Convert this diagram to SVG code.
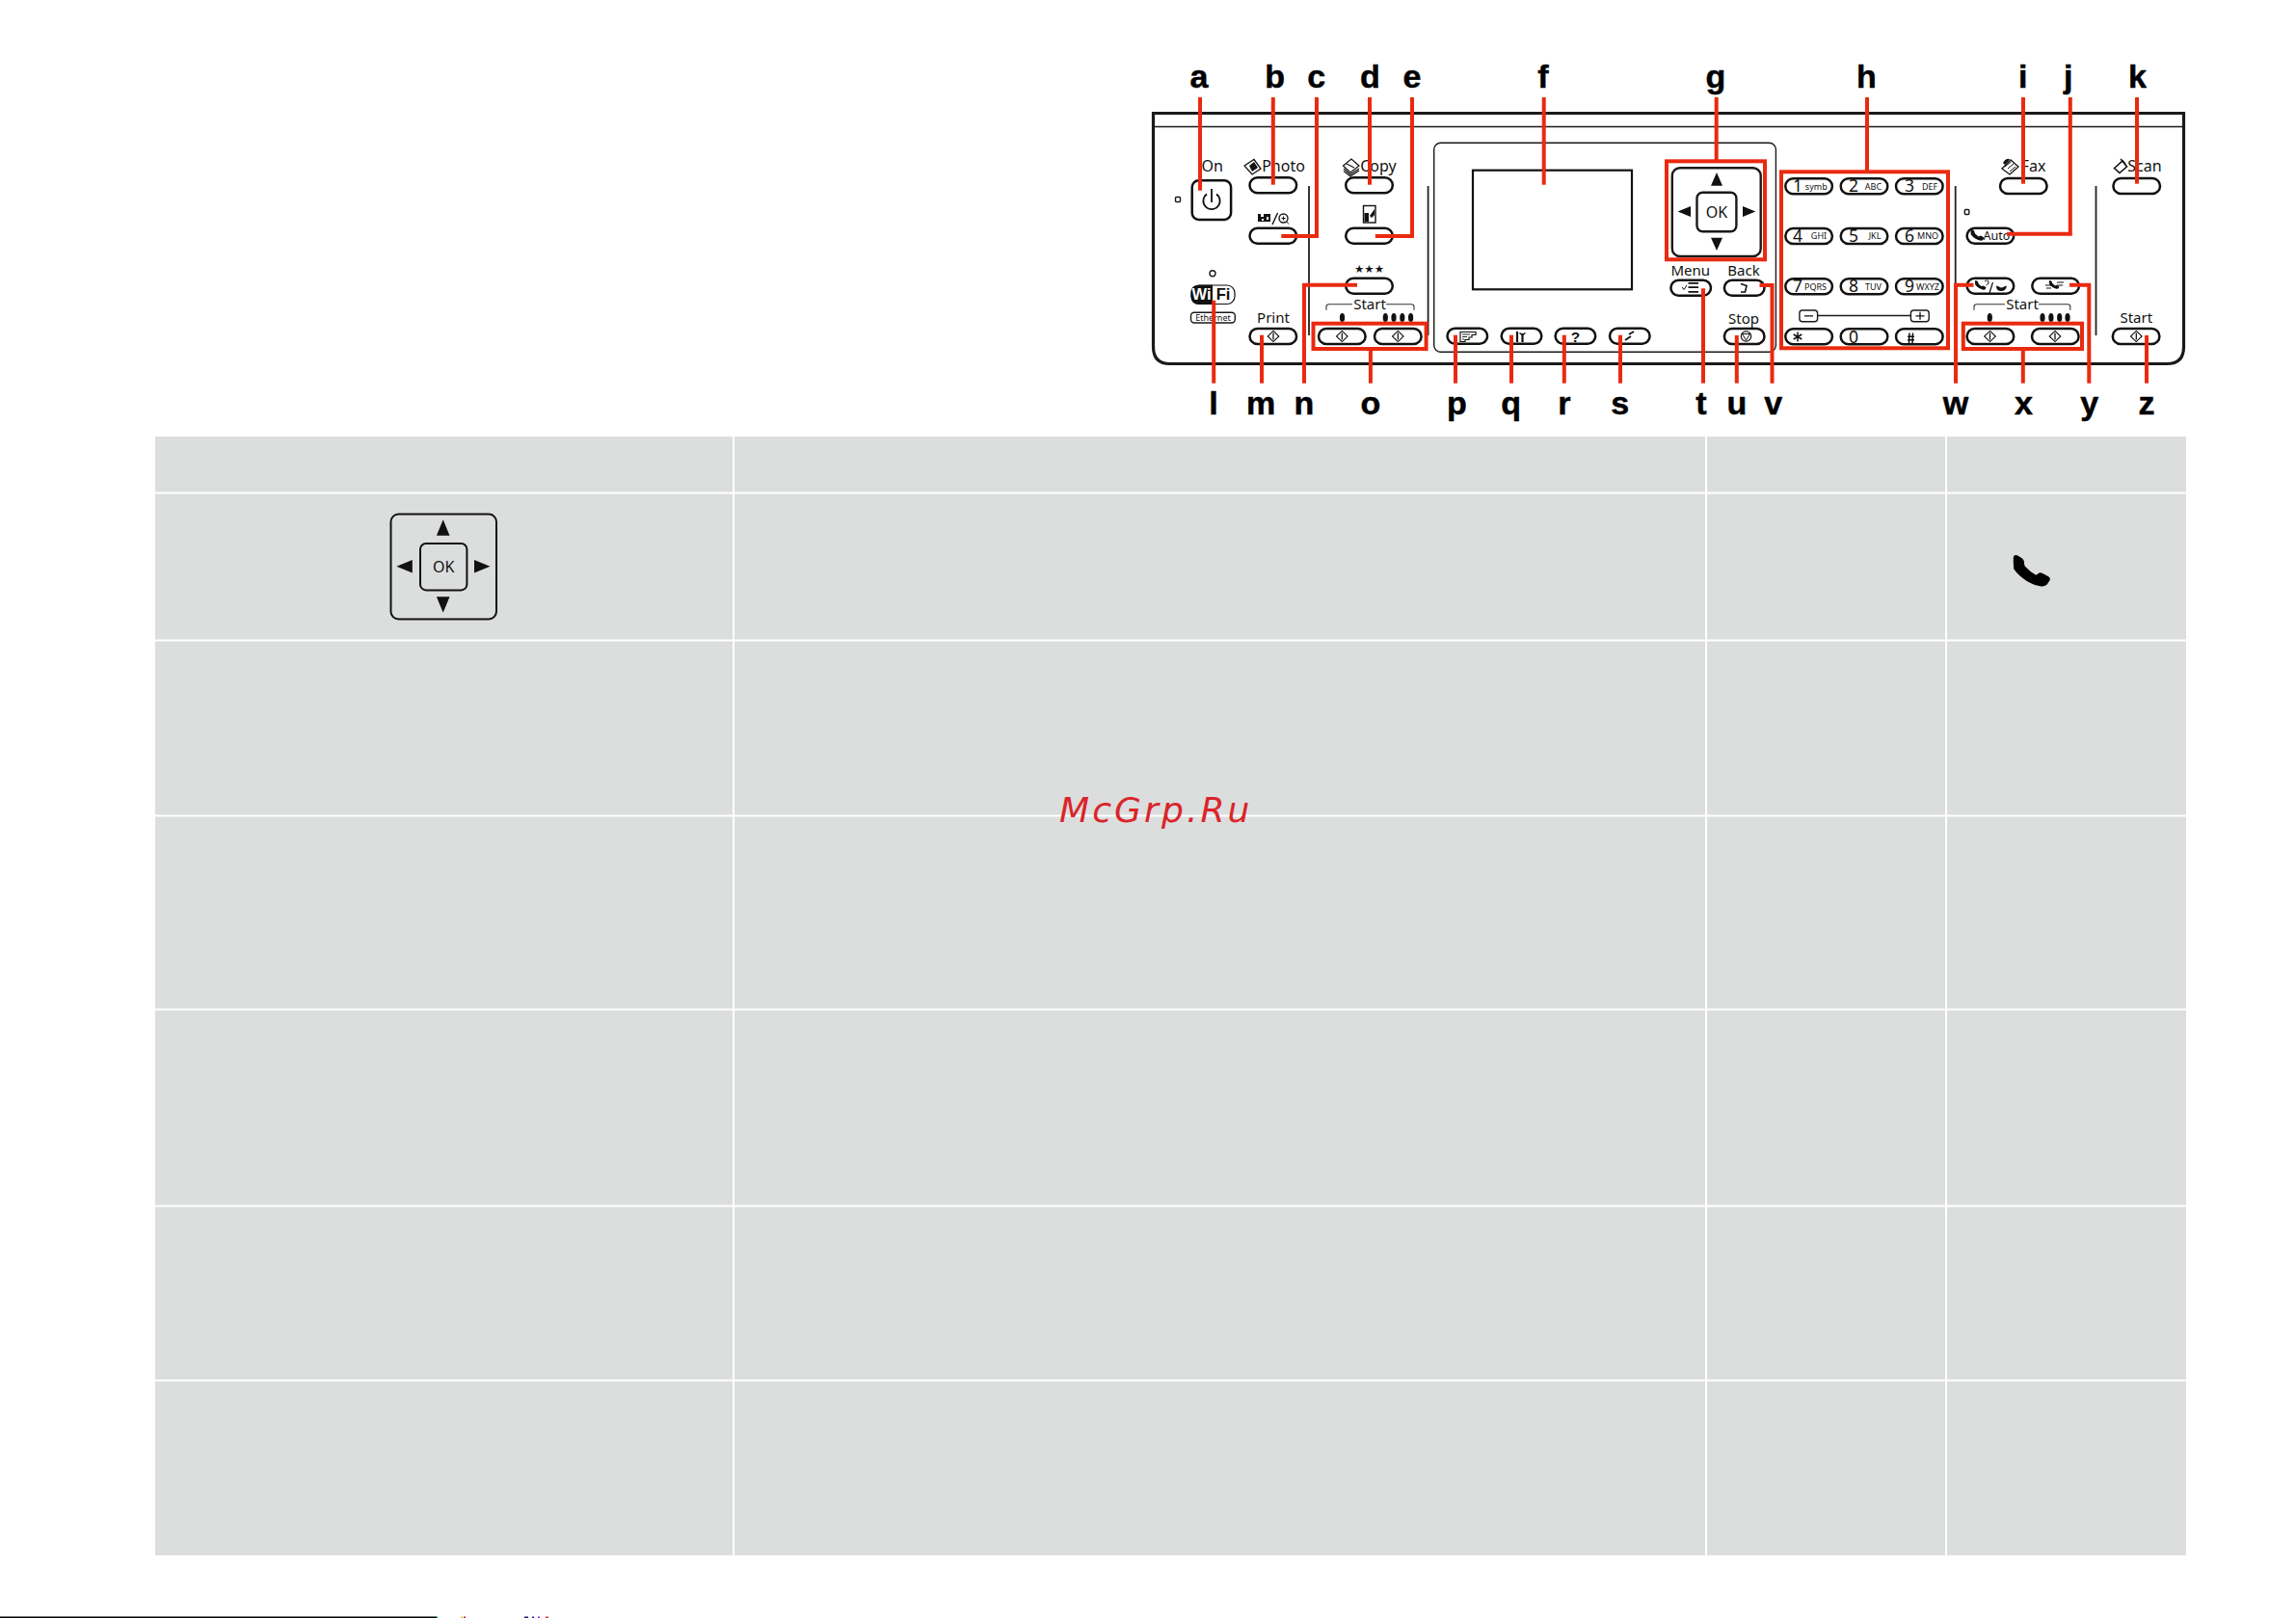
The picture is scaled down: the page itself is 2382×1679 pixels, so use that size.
<svg xmlns="http://www.w3.org/2000/svg" xmlns:xlink="http://www.w3.org/1999/xlink" width="2382" height="1679" viewBox="0 0 2382 1679">
<style>
.cell{fill:#dcdddd}
.pl{fill:none;stroke:#1a1a1a;stroke-width:2.4}
.thin{fill:none;stroke:#1a1a1a;stroke-width:1.4}
.b{fill:#fff;stroke:#111;stroke-width:2.5}
.k{fill:#111;stroke:none}
.sep{fill:none;stroke:#222;stroke-width:1.8}
.t{font-family:"Noto Sans","Liberation Sans",sans-serif;fill:#111;font-size:16px;text-anchor:middle}
.d{font-size:17.5px}
.s{font-family:"Noto Sans","Liberation Sans",sans-serif;fill:#111;font-size:9px;text-anchor:middle}
.lab{font-family:"Liberation Sans",Arial,sans-serif;font-weight:700;font-size:34px;fill:#000;stroke:#000;stroke-width:.5;text-anchor:middle}
.r{fill:none;stroke:#ea2a10;stroke-width:4}
</style>
<defs>
<rect id="bw" width="48.6" height="16" rx="8" class="b"/>
<rect id="bn" width="41.6" height="16" rx="8" class="b"/>
<g id="dia"><path d="M0-5.6 5.8 0 0 5.6-5.8 0Z" fill="#fff" stroke="#111" stroke-width="1.1"/><path d="M0-3.6V3.6" stroke="#111" stroke-width="1.3"/></g>
<path id="ph" d="M1.5 .3Q3 -.3 5 .8L9 3.300Q11.500 5 11.300 9L12 11.500Q17 17 23.500 20.800L27 18.500Q28 17.800 30 18.800L36.500 22.300Q39 24 38 26L35 30.500Q32.500 32.800 29 32.500Q22 31.500 14 27Q5 21 .6 14.500Q-.2 8 .1 2.300Q.3 .8 1.500 .3Z"/>
<ellipse id="drop" rx="2.6" ry="4.6" class="k"/>
</defs>
<rect width="2382" height="1679" fill="#fff"/>
<g id="table">
<rect class="cell" x="161" y="453" width="599" height="57.5"/><rect class="cell" x="762" y="453" width="1007" height="57.5"/><rect class="cell" x="1771" y="453" width="247" height="57.5"/><rect class="cell" x="2020" y="453" width="248" height="57.5"/>
<rect class="cell" x="161" y="512.5" width="599" height="151"/><rect class="cell" x="762" y="512.5" width="1007" height="151"/><rect class="cell" x="1771" y="512.5" width="247" height="151"/><rect class="cell" x="2020" y="512.5" width="248" height="151"/>
<rect class="cell" x="161" y="665.5" width="599" height="180"/><rect class="cell" x="762" y="665.5" width="1007" height="180"/><rect class="cell" x="1771" y="665.5" width="247" height="180"/><rect class="cell" x="2020" y="665.5" width="248" height="180"/>
<rect class="cell" x="161" y="847.5" width="599" height="199"/><rect class="cell" x="762" y="847.5" width="1007" height="199"/><rect class="cell" x="1771" y="847.5" width="247" height="199"/><rect class="cell" x="2020" y="847.5" width="248" height="199"/>
<rect class="cell" x="161" y="1048.5" width="599" height="202"/><rect class="cell" x="762" y="1048.5" width="1007" height="202"/><rect class="cell" x="1771" y="1048.5" width="247" height="202"/><rect class="cell" x="2020" y="1048.5" width="248" height="202"/>
<rect class="cell" x="161" y="1252.5" width="599" height="179"/><rect class="cell" x="762" y="1252.5" width="1007" height="179"/><rect class="cell" x="1771" y="1252.5" width="247" height="179"/><rect class="cell" x="2020" y="1252.5" width="248" height="179"/>
<rect class="cell" x="161" y="1433.5" width="599" height="180.5"/><rect class="cell" x="762" y="1433.5" width="1007" height="180.5"/><rect class="cell" x="1771" y="1433.5" width="247" height="180.5"/><rect class="cell" x="2020" y="1433.5" width="248" height="180.5"/>
</g>
<g id="table-dpad">
<rect x="405.5" y="533.5" width="109.5" height="109" rx="8" fill="none" stroke="#111" stroke-width="2"/>
<rect x="436" y="564" width="48.4" height="48.4" rx="6" fill="none" stroke="#111" stroke-width="2"/>
<path class="k" d="M459.7 539.3 466.5 555.7H452.9ZM459.7 635.7 452.9 619.3H466.5ZM411.4 587.7 427.8 581V594.4ZM508.4 587.7 492 581V594.4Z"/>
<text class="t" x="460.3" y="594">OK</text>
</g>
<use id="table-phone" xlink:href="#ph" href="#ph" transform="translate(2088.7 576)" fill="#000"/>
<text id="watermark" x="1099" y="853.3" font-family="'DejaVu Sans',sans-serif" font-style="italic" font-size="36" letter-spacing="3.1" fill="#d9252a">McGrp.Ru</text>
<g id="page-edge"><rect x="0" y="1677.5" width="453" height="1.5" fill="#000"/><rect x="453" y="1677.5" width="1.5" height="1.5" fill="#2cc"/><rect x="478" y="1677.5" width="2" height="1.5" fill="#dc2"/><rect x="481" y="1677.5" width="2" height="1.5" fill="#c22"/><rect x="544" y="1677.5" width="4" height="1.5" fill="#226"/><rect x="552" y="1677.5" width="2" height="1.5" fill="#22c"/><rect x="558" y="1677.5" width="2" height="1.5" fill="#a2c"/><rect x="566" y="1677.5" width="3" height="1.5" fill="#c44"/></g>

<g id="panel">
<path d="M1196.500 117.500H2265.500V360Q2265.500 377.500 2248 377.500H1214Q1196.500 377.500 1196.500 360Z" fill="none" stroke="#1a1a1a" stroke-width="3.2"/>
<path class="thin" d="M1196.500 131.500H2265.500"/>
<path class="sep" d="M1358 193V348M1481.600 193V348M2028.700 193V348M2174.500 193V348"/>
<rect class="thin" x="1487.700" y="148.300" width="354.700" height="217" rx="7"/>
</g>
<g id="node-on"><rect x="1219.500" y="204.500" width="5" height="5" rx="1" class="thin"/><rect class="b" x="1236.700" y="187.300" width="40.400" height="40.700" rx="7"/><path d="M1252 201.500A8.600 8.600 0 1 0 1262 201.500M1257 196V210" fill="none" stroke="#111" stroke-width="1.800"/><text class="t" x="1257.700" y="178">On</text></g>
<g id="node-photo"><use xlink:href="#bw" href="#bw" x="1296.500" y="184.300"/><path d="M1291 172 1301 165.500 1308 175 1299 181Z" fill="#fff" stroke="#111" stroke-width="1.300"/><path class="k" d="M1296 172 1301 168 1305 174 1299 178Z"/><text class="t" x="1331.500" y="178">Photo</text></g>
<g id="node-zoom"><use xlink:href="#bw" href="#bw" x="1296.500" y="236.700"/><rect class="k" x="1305" y="222" width="13" height="8"/><path d="M1308 222h3v3h-3zM1314 225h2v3h-2zM1309 227h2v2h-2z" fill="#fff"/><path d="M1320 233 1325.500 221" stroke="#111" stroke-width="1.400"/><circle class="thin" cx="1331.500" cy="226.500" r="4.500"/><path d="M1329.500 226.500h4M1331.500 224.500v4M1334.800 230 1337 232.500" stroke="#111" stroke-width="1"/></g>
<g id="node-copy"><use xlink:href="#bw" href="#bw" x="1396.200" y="184.300"/><path d="M1393.500 172 1402 165 1410 172 1401 179Z" fill="#fff" stroke="#111" stroke-width="1.200"/><path d="M1394 175 1401 181 1410 175M1394 177.500 1401 183 1410 177M1397 170 1405 174" fill="none" stroke="#111" stroke-width="1.100"/><text class="t" x="1430" y="178">Copy</text></g>
<g id="node-quality"><use xlink:href="#bw" href="#bw" x="1396.200" y="236.700"/><rect x="1414.500" y="213.500" width="12.500" height="17.500" fill="#fff" stroke="#111" stroke-width="1.400"/><path class="k" d="M1415.500 221H1420V230H1415.500ZM1421 224 1426 217V223L1423 226Z"/></g>
<g id="node-stars"><use xlink:href="#bw" href="#bw" x="1396.200" y="288.700"/><text x="1420.500" y="283" font-family="'DejaVu Sans',sans-serif" font-size="11.500" text-anchor="middle" fill="#111">★★★</text></g>
<g id="node-start-photo"><path d="M1376 321.700V318Q1376 315.700 1379 315.700H1403M1438 315.700H1464Q1467 315.700 1467 318V321.700" fill="none" stroke="#333" stroke-width="1.100"/><text class="t" x="1421" y="321" style="font-size:15px">Start</text>
<use xlink:href="#drop" href="#drop" x="1392.500" y="329.500"/><use xlink:href="#drop" href="#drop" x="1437.300" y="329.500"/><use xlink:href="#drop" href="#drop" x="1446" y="329.500"/><use xlink:href="#drop" href="#drop" x="1454.800" y="329.500"/><use xlink:href="#drop" href="#drop" x="1463.600" y="329.500"/>
<use xlink:href="#bw" href="#bw" x="1368" y="341"/><use xlink:href="#dia" href="#dia" x="1392.300" y="349"/><use xlink:href="#bw" href="#bw" x="1426" y="341"/><use xlink:href="#dia" href="#dia" x="1450.300" y="349"/></g>
<g id="node-wifi"><circle cx="1258" cy="283.700" r="3" class="thin"/><rect x="1236" y="296" width="45" height="19.500" rx="8" fill="#fff" stroke="#111" stroke-width="1.200"/><path class="k" d="M1244 295.700H1258V315.700H1244Q1235.500 315.700 1235.500 307.500V303.500Q1235.500 295.700 1244 295.700Z"/><text x="1246.500" y="311.300" font-family="'Liberation Sans',sans-serif" font-weight="700" font-size="16.500" fill="#fff" text-anchor="middle">Wi</text><text x="1269" y="311.300" font-family="'Liberation Sans',sans-serif" font-weight="700" font-size="16.500" fill="#111" text-anchor="middle">Fi</text>
<rect class="thin" x="1235.500" y="324.300" width="45.800" height="10.700" rx="3.500"/><text class="s" x="1258.500" y="332.700">Ethernet</text></g>
<g id="node-print"><use xlink:href="#bw" href="#bw" x="1296.500" y="341"/><use xlink:href="#dia" href="#dia" x="1321" y="349"/><text class="t" x="1321" y="335" style="font-size:15px">Print</text></g>
<g id="node-lcd"><rect x="1528" y="176.700" width="165" height="123.600" fill="#fff" stroke="#111" stroke-width="2.200"/></g>
<g id="node-p"><use xlink:href="#bn" href="#bn" x="1501.500" y="340.700"/><path d="M1515 344.500H1531V347.500H1527V350H1524V352.500H1520V354.500H1515Z" fill="#fff" stroke="#111" stroke-width="1.200"/><path d="M1517 347H1525M1517 349.500H1522M1517 352H1519" stroke="#111" stroke-width=".9"/></g>
<g id="node-q"><use xlink:href="#bn" href="#bn" x="1557.700" y="340.700"/><path d="M1574 344V355M1579.500 346V355" stroke="#111" stroke-width="2.200"/><path d="M1576.500 345.500 1579.500 347.500 1582.500 345.500" fill="none" stroke="#111" stroke-width="1.500"/></g>
<g id="node-r"><use xlink:href="#bn" href="#bn" x="1613.600" y="340.700"/><text x="1634.500" y="354.500" font-family="'Liberation Sans',sans-serif" font-weight="700" font-size="15.500" text-anchor="middle" fill="#111">?</text></g>
<g id="node-s"><use xlink:href="#bn" href="#bn" x="1670" y="340.700"/><path d="M1686 353 1692 349M1690 347 1695 344" stroke="#111" stroke-width="1.800"/></g>
<g id="node-dpad"><rect class="pl" x="1734.800" y="174.300" width="91.900" height="91.700" rx="8"/><rect class="pl" x="1760.500" y="199.700" width="40.900" height="40.600" rx="6"/><path class="k" d="M1781 179 1787 192.700H1775ZM1781 260 1775 246.700H1787ZM1740.600 219.500 1754 214V225ZM1821.300 219.500 1808 214V225Z"/><text class="t" x="1781" y="226">OK</text></g>
<g id="node-menu"><use xlink:href="#bn" href="#bn" x="1733.400" y="290.700"/><text class="t" x="1753.700" y="286" style="font-size:15px">Menu</text><path d="M1751.500 293.800H1762M1751.500 298.200H1762M1751.500 302.800H1762" stroke="#111" stroke-width="1.800"/><path d="M1745 298 1747 300.500 1750 296" fill="none" stroke="#111" stroke-width="1"/></g>
<g id="node-back"><use xlink:href="#bn" href="#bn" x="1788.900" y="290.700"/><text class="t" x="1809" y="286" style="font-size:15px">Back</text><path d="M1806 294.500 1812 296.500 1810.500 303 1806 303" fill="none" stroke="#111" stroke-width="1.600"/></g>
<g id="node-stop"><use xlink:href="#bn" href="#bn" x="1788.900" y="341"/><text class="t" x="1809" y="336" style="font-size:15px">Stop</text><circle cx="1811.500" cy="349" r="5.200" fill="#fff" stroke="#111" stroke-width="1.200"/><path d="M1807.500 346.500H1815.500L1811.500 353Z" fill="none" stroke="#111" stroke-width="1"/></g>
<g id="node-keypad">
<use xlink:href="#bw" href="#bw" x="1852.300" y="185.300"/><use xlink:href="#bw" href="#bw" x="1909.700" y="185.300"/><use xlink:href="#bw" href="#bw" x="1967" y="185.300"/>
<use xlink:href="#bw" href="#bw" x="1852.300" y="237"/><use xlink:href="#bw" href="#bw" x="1909.700" y="237"/><use xlink:href="#bw" href="#bw" x="1967" y="237"/>
<use xlink:href="#bw" href="#bw" x="1852.300" y="289.300"/><use xlink:href="#bw" href="#bw" x="1909.700" y="289.300"/><use xlink:href="#bw" href="#bw" x="1967" y="289.300"/>
<use xlink:href="#bw" href="#bw" x="1852.300" y="341.300"/><use xlink:href="#bw" href="#bw" x="1909.700" y="341.300"/><use xlink:href="#bw" href="#bw" x="1967" y="341.300"/>
<text class="t d" x="1865" y="199">1</text><text class="s" x="1884.300" y="196.500">symb</text><text class="t d" x="1923" y="199">2</text><text class="s" x="1943.500" y="196.500">ABC</text><text class="t d" x="1981" y="199">3</text><text class="s" x="2002" y="196.500">DEF</text>
<text class="t d" x="1865" y="250.700">4</text><text class="s" x="1887" y="248.200">GHI</text><text class="t d" x="1923" y="250.700">5</text><text class="s" x="1945" y="248.200">JKL</text><text class="t d" x="1981" y="250.700">6</text><text class="s" x="2000" y="248.200">MNO</text>
<text class="t d" x="1865" y="303">7</text><text class="s" x="1883.500" y="300.500">PQRS</text><text class="t d" x="1923" y="303">8</text><text class="s" x="1943.500" y="300.500">TUV</text><text class="t d" x="1981" y="303">9</text><text class="s" x="2000" y="300.500">WXYZ</text>
<path d="M1865 344.500V354.500M1860.700 347 1869.300 352M1860.700 352 1869.300 347" stroke="#111" stroke-width="1.500"/><text class="t d" x="1923" y="355.500">0</text><path d="M1979 349.200H1986M1979 352.800H1986M1981 345.500 1980.500 356M1984.500 345.500 1984 356" stroke="#111" stroke-width="1.500"/>
<path class="thin" d="M1885.600 327.500H1982.400"/><rect class="thin" x="1866.900" y="322" width="18.700" height="11.700" rx="3"/><rect class="thin" x="1982.400" y="322" width="18.800" height="11.700" rx="3"/><path d="M1872 327.800H1881M1987.500 327.800H1996.500M1992 323.800V331.800" stroke="#111" stroke-width="1.300"/>
</g>
<g id="node-fax"><use xlink:href="#bw" href="#bw" x="2075" y="185"/><path d="M2077 175 2086 166 2094 173 2085 181Z" fill="#fff" stroke="#111" stroke-width="1.300"/><path d="M2080 173 2086 168M2083 175 2089 170M2085 178 2091 173" stroke="#111" stroke-width="1"/><path d="M2078 169Q2081 164 2085 165L2083 168 2080 171Z" fill="#111"/><text class="t" x="2109.500" y="178">Fax</text></g>
<g id="node-scan"><use xlink:href="#bw" href="#bw" x="2192.400" y="185"/><path d="M2193.500 174.500 2202 167 2206.500 173 2199 179.500Z" fill="#fff" stroke="#111" stroke-width="1.600"/><path d="M2200 165 2205 170" stroke="#111" stroke-width="1.500"/><text class="t" x="2225" y="178">Scan</text></g>
<g id="node-auto"><rect x="2038.300" y="217.500" width="4.500" height="5" rx="1" class="thin"/><use xlink:href="#bw" href="#bw" x="2040.600" y="236.700"/><use xlink:href="#ph" href="#ph" transform="translate(2044.500 238) scale(.36)" fill="#111"/><text class="t" x="2071.500" y="249.200" style="font-size:12.500px">Auto</text></g>
<g id="node-w"><use xlink:href="#bw" href="#bw" x="2040.600" y="288.700"/><use xlink:href="#ph" href="#ph" transform="translate(2049 291) scale(.3)" fill="#111"/><path d="M2059 292Q2062 289.500 2063 292T2060.500 296" fill="none" stroke="#111" stroke-width="1"/><path d="M2064 304 2067.500 293" stroke="#111" stroke-width="1.200"/><path d="M2071 296.500Q2071 302 2076 302T2082 296.500L2079 297.500Q2076 299.500 2074 297.500Z" fill="#111"/></g>
<g id="node-y"><use xlink:href="#bw" href="#bw" x="2108.300" y="288.700"/><use xlink:href="#ph" href="#ph" transform="translate(2126 291) scale(.27)" fill="#111"/><path d="M2122 296H2129M2123 299H2128M2134 293H2141M2134 296H2140" stroke="#111" stroke-width="1"/></g>
<g id="node-start-fax"><path d="M2048 321.700V318Q2048 315.700 2051 315.700H2080M2115 315.700H2145Q2147.800 315.700 2147.800 318V321.700" fill="none" stroke="#333" stroke-width="1.100"/><text class="t" x="2098" y="321" style="font-size:15px">Start</text>
<use xlink:href="#drop" href="#drop" x="2064.300" y="329.500"/><use xlink:href="#drop" href="#drop" x="2119" y="329.500"/><use xlink:href="#drop" href="#drop" x="2127.900" y="329.500"/><use xlink:href="#drop" href="#drop" x="2136.700" y="329.500"/><use xlink:href="#drop" href="#drop" x="2145" y="329.500"/>
<use xlink:href="#bw" href="#bw" x="2040.600" y="341"/><use xlink:href="#dia" href="#dia" x="2064.500" y="349"/><use xlink:href="#bw" href="#bw" x="2108" y="341"/><use xlink:href="#dia" href="#dia" x="2132" y="349"/></g>
<g id="node-start-scan"><use xlink:href="#bw" href="#bw" x="2191.800" y="341"/><use xlink:href="#dia" href="#dia" x="2216.300" y="349"/><text class="t" x="2216.300" y="335" style="font-size:15px">Start</text></g>

<g id="connectors" class="r">
<rect x="1362.500" y="335.700" width="117.100" height="26.300"/>
<rect x="1729" y="167.300" width="102" height="102"/>
<rect x="1848" y="178.300" width="173" height="183"/>
<rect x="2036.800" y="335.700" width="123.200" height="26.300"/>
<path d="M1245 101V197.700"/><path d="M1320.800 101V191.700"/><path d="M1366 101V245H1329.300"/><path d="M1421 101V191.700"/><path d="M1465 101V245H1426.800"/><path d="M1601.700 101V191.700"/><path d="M1780.700 101V167"/><path d="M1937 101V178"/><path d="M2099 101V190.700"/><path d="M2147.800 101V242.700H2082"/><path d="M2217 101V190.700"/>
<path d="M1259.200 311.700V397.700"/><path d="M1309 347.700V397.700"/><path d="M1408 295.700H1353V397.700"/><path d="M1421.900 362V397.700"/><path d="M1510 347.700V397.700"/><path d="M1568 347.700V397.700"/><path d="M1622.800 347.700V397.700"/><path d="M1681 347.700V397.700"/><path d="M1767 299.300V397.700"/><path d="M1801.800 348V397.700"/><path d="M1825.500 296H1838.500V397.700"/><path d="M2047.500 295.700H2029V397.700"/><path d="M2098.800 362V397.700"/><path d="M2147 295.700H2167.300V397.700"/><path d="M2227 348V397.700"/>
</g>
<g id="labels">
<text class="lab" x="1244" y="91">a</text><text class="lab" x="1322.700" y="91">b</text><text class="lab" x="1365.600" y="91">c</text><text class="lab" x="1421.500" y="91">d</text><text class="lab" x="1465" y="91">e</text><text class="lab" x="1601" y="91">f</text><text class="lab" x="1780" y="91">g</text><text class="lab" x="1936.500" y="91">h</text><text class="lab" x="2098.800" y="91">i</text><text class="lab" x="2145.800" y="91">j</text><text class="lab" x="2217.400" y="91">k</text>
<text class="lab" x="1259" y="429.500">l</text><text class="lab" x="1308" y="429.500">m</text><text class="lab" x="1353" y="429.500">n</text><text class="lab" x="1422" y="429.500">o</text><text class="lab" x="1511.400" y="429.500">p</text><text class="lab" x="1567.700" y="429.500">q</text><text class="lab" x="1622.800" y="429.500">r</text><text class="lab" x="1680.600" y="429.500">s</text><text class="lab" x="1765" y="429.500">t</text><text class="lab" x="1802" y="429.500">u</text><text class="lab" x="1839.700" y="429.500">v</text><text class="lab" x="2029" y="429.500">w</text><text class="lab" x="2099.500" y="429.500">x</text><text class="lab" x="2167.700" y="429.500">y</text><text class="lab" x="2227" y="429.500">z</text>
</g>
</svg>
